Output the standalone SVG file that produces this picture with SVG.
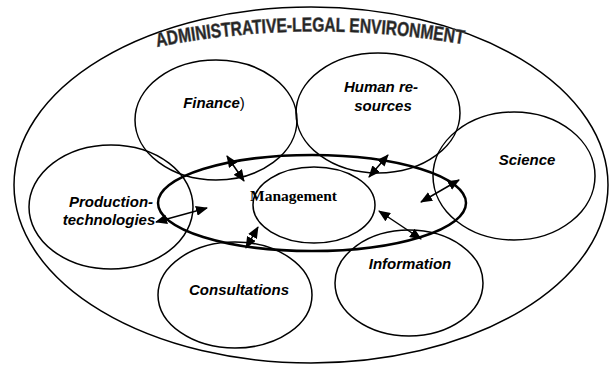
<svg xmlns="http://www.w3.org/2000/svg" width="616" height="365" viewBox="0 0 616 365">
<style>
.c{fill:none;stroke:#000;stroke-width:1.5}
.ring{fill:none;stroke:#000;stroke-width:2.5}
.t{font-family:"Liberation Sans",Arial,sans-serif;font-weight:bold;font-style:italic;font-size:15px;fill:#000;text-anchor:middle}
.m{font-family:"Liberation Serif","Times New Roman",serif;font-weight:bold;font-size:15.5px;fill:#000}
.title{font-family:"Liberation Sans",Arial,sans-serif;font-weight:bold;font-size:20px;fill:#222;stroke:#555;stroke-width:0.6}
.a{stroke:#000;stroke-width:1.5;fill:none;marker-start:url(#h);marker-end:url(#h)}
</style>
<defs>
<marker id="h" markerUnits="userSpaceOnUse" markerWidth="12" markerHeight="10" refX="11" refY="5" orient="auto-start-reverse">
<path d="M0,0 L12,5 L0,10 Z" fill="#000"/>
</marker>
<path id="arc" d="M157,47 Q311,17 467,45"/>
</defs>
<rect width="616" height="365" fill="#fff"/>
<g id="environment">
<ellipse class="c" cx="311" cy="185" rx="297" ry="178"/>
<text class="title"><textPath href="#arc" textLength="308" lengthAdjust="spacingAndGlyphs">ADMINISTRATIVE-LEGAL ENVIRONMENT</textPath></text>
</g>
<g id="finance">
<ellipse class="c" cx="216" cy="120" rx="81" ry="60"/>
<text class="t" x="214" y="108">Finance<tspan font-style="normal" font-weight="normal">)</tspan></text>
</g>
<g id="human-resources">
<ellipse class="c" cx="378" cy="113" rx="82" ry="60"/>
<text class="t" x="381" y="92">Human re-</text>
<text class="t" x="383" y="111">sources</text>
</g>
<g id="science">
<ellipse class="c" cx="514" cy="176" rx="81" ry="64"/>
<text class="t" x="527" y="165">Science</text>
</g>
<g id="production">
<ellipse class="c" cx="111" cy="207" rx="82" ry="62"/>
<text class="t" x="111" y="207">Production-</text>
<text class="t" x="109" y="225">technologies</text>
</g>
<g id="consultations">
<ellipse class="c" cx="235" cy="295" rx="77" ry="53"/>
<text class="t" x="239" y="295">Consultations</text>
</g>
<g id="information">
<ellipse class="c" cx="409" cy="283" rx="74" ry="53"/>
<text class="t" x="410" y="269">Information</text>
</g>
<g id="management-ring">
<ellipse class="ring" cx="312" cy="203" rx="154" ry="48"/>
</g>
<g id="management">
<ellipse class="c" cx="314" cy="205" rx="61" ry="38"/>
<text class="m" x="250" y="201">Management</text>
</g>
<g id="connectors">
<line class="a" x1="227" y1="156" x2="244" y2="181"/>
<line class="a" x1="388" y1="155" x2="369" y2="177"/>
<line class="a" x1="459" y1="180" x2="421" y2="202"/>
<line class="a" x1="379" y1="211" x2="421" y2="239"/>
<line class="a" x1="258" y1="227" x2="246" y2="248"/>
<line class="a" x1="156" y1="222" x2="207" y2="208"/>
</g>
</svg>
